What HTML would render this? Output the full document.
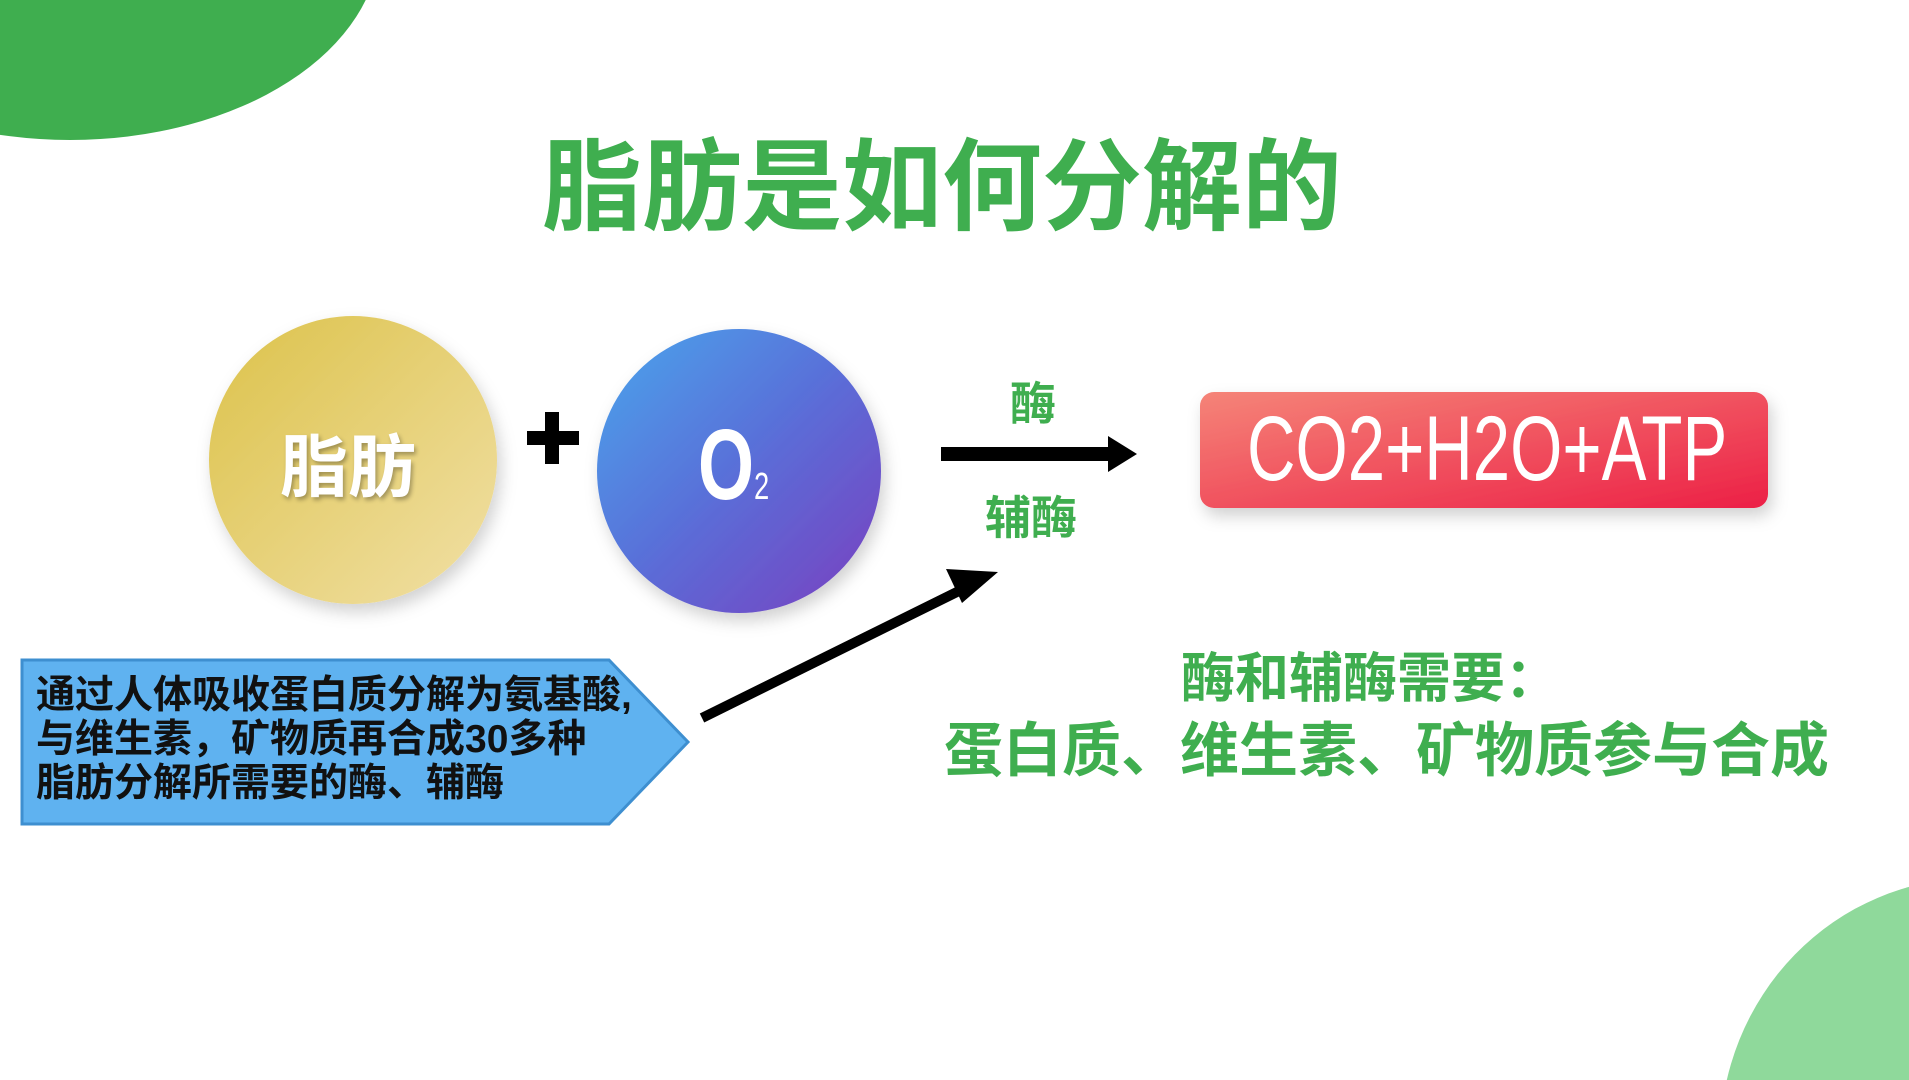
<!DOCTYPE html>
<html><head><meta charset="utf-8"><style>
html,body{margin:0;padding:0;width:1909px;height:1080px;overflow:hidden}
body{position:relative;background:#fff;font-family:"Liberation Sans","Noto Sans CJK SC",sans-serif}
.a{position:absolute;white-space:nowrap}
.cjk{font-family:"Liberation Sans","Noto Sans CJK SC",sans-serif;font-weight:bold}
</style></head><body>
<svg class="a" style="left:0;top:0" width="1909" height="1080">
<defs>
<linearGradient id="gy" x1="0" y1="0" x2="1" y2="1"><stop offset="0" stop-color="#dcc24a"/><stop offset="1" stop-color="#f1e0a6"/></linearGradient>
<linearGradient id="gb" x1="0" y1="0" x2="1" y2="1"><stop offset="0" stop-color="#4aa6ec"/><stop offset="0.5" stop-color="#5a6ed8"/><stop offset="1" stop-color="#7a3fbf"/></linearGradient>
<linearGradient id="gr" x1="0" y1="0" x2="1" y2="1"><stop offset="0" stop-color="#f58478"/><stop offset="1" stop-color="#ec2046"/></linearGradient>
<filter id="sh" x="-20%" y="-20%" width="140%" height="140%"><feDropShadow dx="4" dy="8" stdDeviation="8" flood-opacity="0.18"/></filter>
</defs>
<ellipse cx="70" cy="-60" rx="310" ry="200" fill="#3fae4f"/>
<ellipse cx="1975" cy="1140" rx="255" ry="262" fill="#8fd99b"/>
<circle cx="353" cy="460" r="144" fill="url(#gy)" filter="url(#sh)"/>
<circle cx="739" cy="471" r="142" fill="url(#gb)" filter="url(#sh)"/>
<rect x="545" y="412" width="14" height="52" fill="#000"/>
<rect x="527" y="431" width="52" height="14" fill="#000"/>
<rect x="1200" y="392" width="568" height="116" rx="14" fill="url(#gr)" filter="url(#sh)"/>
<line x1="941" y1="454" x2="1112" y2="454" stroke="#000" stroke-width="14"/>
<polygon points="1108,436 1137,454 1108,472" fill="#000"/>
<line x1="702" y1="718" x2="965" y2="588" stroke="#000" stroke-width="10"/>
<polygon points="998,572 946,569 962,603" fill="#000"/>
<polygon points="22,660 609,660 688,742 609,824 22,824" fill="#5fb2f0" stroke="#3e8fd0" stroke-width="3"/>
</svg>
<div class="a cjk" style="left:542px;top:128px;font-size:100px;color:#3fae4f;line-height:120px">脂肪是如何分解的</div>
<div class="a cjk" style="left:280px;top:428px;font-size:68px;color:#fff;line-height:80px;text-shadow:2px 3px 4px rgba(0,0,0,0.3)">脂肪</div>
<div class="a" style="left:698px;top:410px;font-size:100px;font-weight:bold;color:#fff;line-height:110px;transform:scaleX(0.72);transform-origin:0 0">O<span style="font-size:38px;font-weight:normal">2</span></div>
<div class="a cjk" style="left:1010px;top:376px;font-size:46px;color:#3fae4f;line-height:56px">酶</div>
<div class="a cjk" style="left:985px;top:490px;font-size:46px;color:#3fae4f;line-height:56px">辅酶</div>
<div class="a" style="left:1247px;top:394px;font-size:92px;color:#fff;line-height:110px;transform:scaleX(0.73);transform-origin:0 0">CO2+H2O+ATP</div>
<div class="a cjk" style="left:36px;top:674px;font-size:39px;color:#111;line-height:44px">通过人体吸收蛋白质分解为氨基酸,<br>与维生素，矿物质再合成30多种<br>脂肪分解所需要的酶、辅酶</div>
<div class="a cjk" style="left:1181px;top:647px;font-size:54px;color:#3fae4f;line-height:64px">酶和辅酶需要：</div>
<div class="a cjk" style="left:944px;top:716px;font-size:59px;color:#3fae4f;line-height:70px">蛋白质、维生素、矿物质参与合成</div>
</body></html>
